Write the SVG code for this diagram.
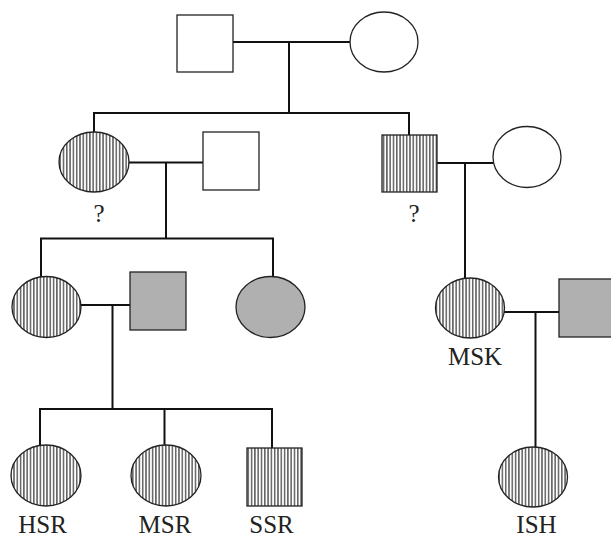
<svg xmlns="http://www.w3.org/2000/svg" width="611" height="537" viewBox="0 0 611 537">
<defs>
<pattern id="hatch" patternUnits="userSpaceOnUse" width="3.3" height="10">
<rect width="3.3" height="10" fill="#ffffff"/>
<line x1="0.8" y1="0" x2="0.8" y2="10" stroke="#222" stroke-width="1.1"/>
</pattern>
<style>
.conn{fill:none;stroke:#111;stroke-width:2;stroke-linecap:square}
.shape{stroke:#222;stroke-width:1.3}
.white{fill:#fff}
.hatch{fill:url(#hatch)}
.gray{fill:#b0b0b0}
.lbl{font-size:25px;fill:#222;text-anchor:middle}
</style>
</defs>
<rect width="611" height="537" fill="#fff"/>
<g id="connectors">
<path class="conn" d="M233 42 H350 M289 42 V113 M94 113 H409 M94 113 V132 M409 113 V135"/>
<path class="conn" d="M129 162.5 H203 M166 162.5 V238 M41 238.5 H273 M41 238.5 V276 M273 238.5 V277"/>
<path class="conn" d="M437 163 H493 M465 163 V278"/>
<path class="conn" d="M81 305 H130 M112.5 305 V409 M40 409 H272 M40 409 V446 M164.5 409 V446 M272 409 V448"/>
<path class="conn" d="M505 312 H559 M535.5 312 V447"/>
</g>
<g id="gen1-father"><rect class="shape white" x="177" y="15" width="56" height="57"/></g>
<g id="gen1-mother"><ellipse class="shape white" cx="384" cy="42" rx="34" ry="30"/></g>
<g id="gen2-daughter"><ellipse class="shape hatch" cx="94" cy="162" rx="35" ry="30"/><text class="lbl" font-family="Liberation Serif, Times New Roman, serif" x="99" y="222">?</text></g>
<g id="gen2-daughter-husband"><rect class="shape white" x="203" y="132" width="56" height="58"/></g>
<g id="gen2-son"><rect class="shape hatch" x="382" y="135" width="55" height="57"/><text class="lbl" font-family="Liberation Serif, Times New Roman, serif" x="414" y="222">?</text></g>
<g id="gen2-son-wife"><ellipse class="shape white" cx="527" cy="157" rx="34" ry="30.5"/></g>
<g id="gen3-daughter1"><ellipse class="shape hatch" cx="46.5" cy="307" rx="34.5" ry="30.5"/></g>
<g id="gen3-daughter1-husband"><rect class="shape gray" x="130" y="272" width="56" height="58"/></g>
<g id="gen3-daughter2"><ellipse class="shape gray" cx="270.5" cy="307" rx="34.5" ry="30.5"/></g>
<g id="MSK"><ellipse class="shape hatch" cx="470" cy="308" rx="34.5" ry="30"/><text class="lbl" font-family="Liberation Serif, Times New Roman, serif" x="475" y="365">MSK</text></g>
<g id="MSK-husband"><rect class="shape gray" x="559" y="279" width="56" height="58"/></g>
<g id="HSR"><ellipse class="shape hatch" cx="46" cy="475.5" rx="35" ry="30.5"/><text class="lbl" font-family="Liberation Serif, Times New Roman, serif" x="42.5" y="533">HSR</text></g>
<g id="MSR"><ellipse class="shape hatch" cx="166" cy="475.5" rx="35" ry="30.5"/><text class="lbl" font-family="Liberation Serif, Times New Roman, serif" x="165" y="533">MSR</text></g>
<g id="SSR"><rect class="shape hatch" x="247" y="448" width="55" height="58"/><text class="lbl" font-family="Liberation Serif, Times New Roman, serif" x="271.5" y="533">SSR</text></g>
<g id="ISH"><ellipse class="shape hatch" cx="533" cy="477" rx="34.5" ry="30"/><text class="lbl" font-family="Liberation Serif, Times New Roman, serif" x="536.5" y="533">ISH</text></g>
</svg>
